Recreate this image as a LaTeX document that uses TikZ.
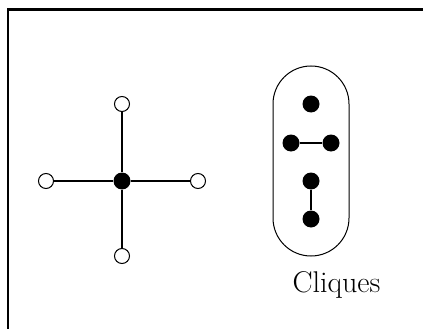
\documentclass[tikz,border=0pt]{standalone}
\begin{document}
\begin{tikzpicture}[x=1pt,y=-1pt,
  opendot/.style={circle,draw,fill=white,line width=1pt,minimum size=15pt,inner sep=0pt},
  fulldot/.style={circle,fill=black,minimum size=17pt,inner sep=0pt},
  thin edge/.style={line width=1.8pt},
  thick edge/.style={line width=2.8pt},
  frame/.style={line width=2.8pt}]
\useasboundingbox (0,0) rectangle (423,329);
\fill[white] (0,0) rectangle (423,329);
% frame
\coordinate (fbl) at (8,335);
\coordinate (ftl) at (8,9.5);
\coordinate (ftr) at (430,9.5);
\draw[frame] (fbl) -- (ftl) -- (ftr);
% star graph
\node[fulldot] (c) at (122,181) {};
\node[opendot] (t) at (122,104) {};
\node[opendot] (b) at (122,256) {};
\node[opendot] (l) at (46,181) {};
\node[opendot] (r) at (198,181) {};
\draw[thick edge] (t) -- (c) -- (b);
\draw[thin edge] (l) -- (c) -- (r);
% cliques
\draw[line width=1pt, rounded corners=38pt] (273,66) rectangle (349,256);
\node[fulldot] (a1) at (311,104) {};
\node[fulldot] (b1) at (291,143) {};
\node[fulldot] (b2) at (331,143) {};
\node[fulldot] (d1) at (311,181) {};
\node[fulldot] (d2) at (311,219) {};
\draw[thin edge] (b1) -- (b2);
\draw[thin edge] (d1) -- (d2);
\node[anchor=base, inner sep=0pt, font=\fontsize{30}{36}\selectfont] (cap) at (336.5,292) {Cliques};
\end{tikzpicture}
\end{document}
